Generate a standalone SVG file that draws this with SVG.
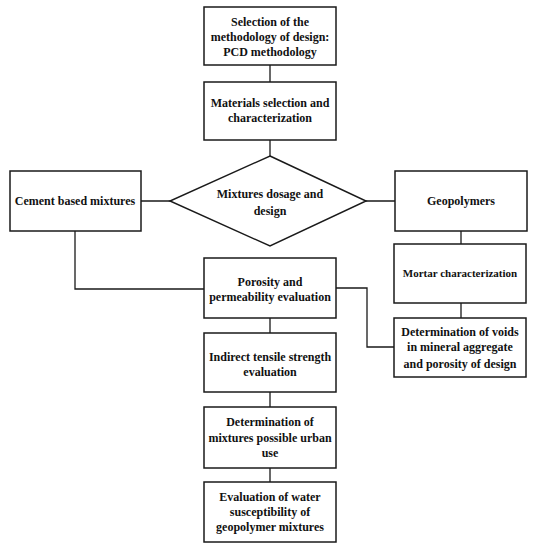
<svg xmlns="http://www.w3.org/2000/svg" width="535" height="550" viewBox="0 0 535 550">
<style>
.box{fill:#fff;stroke:#1a1a1a;stroke-width:1.5}
.ln{fill:none;stroke:#1a1a1a;stroke-width:1.3}
text{font-family:"Liberation Serif","DejaVu Serif",serif;font-weight:bold;font-size:12px;fill:#111;text-anchor:middle}
.sm{font-size:11px}
</style>
<rect width="535" height="550" fill="#fff"/>
<g id="connectors">
<path class="ln" d="M270 65V82M270 140V156M141 201H170M366 201H395M75 231V289H204M461 231V244M461 303V318M336 288H367V347H394M270 318V333M270 392V407M270 468V482"/>
</g>
<g id="n1"><rect class="box" x="204" y="7" width="132" height="58"/>
<text x="270" y="26">Selection of the</text><text x="270" y="41">methodology of design:</text><text x="270" y="56">PCD methodology</text></g>
<g id="n2"><rect class="box" x="204" y="82" width="132" height="58"/>
<text x="270" y="107">Materials selection and</text><text x="270" y="122">characterization</text></g>
<g id="n3"><polygon class="box" points="270,156 366,201 270,246 170,201"/>
<text x="270" y="197.5">Mixtures dosage and</text><text x="270" y="214.5">design</text></g>
<g id="n4"><rect class="box" x="10" y="171" width="131" height="60"/>
<text x="75" y="205">Cement based mixtures</text></g>
<g id="n5"><rect class="box" x="395" y="171" width="132" height="60"/>
<text x="461" y="205">Geopolymers</text></g>
<g id="n6"><rect class="box" x="394" y="244" width="132" height="59"/>
<text class="sm" x="460" y="276.5">Mortar characterization</text></g>
<g id="n7"><rect class="box" x="204" y="258" width="132" height="60"/>
<text x="270" y="285.5">Porosity and</text><text x="270" y="300.5">permeability evaluation</text></g>
<g id="n8"><rect class="box" x="394" y="318" width="132" height="59"/>
<text x="460" y="335.5">Determination of voids</text><text x="460" y="350.5">in mineral aggregate</text><text x="460" y="367.5">and porosity of design</text></g>
<g id="n9"><rect class="box" x="204" y="333" width="132" height="59"/>
<text x="270" y="360.5">Indirect tensile strength</text><text x="270" y="375.5">evaluation</text></g>
<g id="n10"><rect class="box" x="204" y="407" width="132" height="61"/>
<text x="270" y="426">Determination of</text><text x="270" y="442">mixtures possible urban</text><text x="270" y="457">use</text></g>
<g id="n11"><rect class="box" x="204" y="482" width="132" height="60"/>
<text x="270" y="500.5">Evaluation of water</text><text x="270" y="515.5">susceptibility of</text><text x="270" y="531">geopolymer mixtures</text></g>
</svg>
